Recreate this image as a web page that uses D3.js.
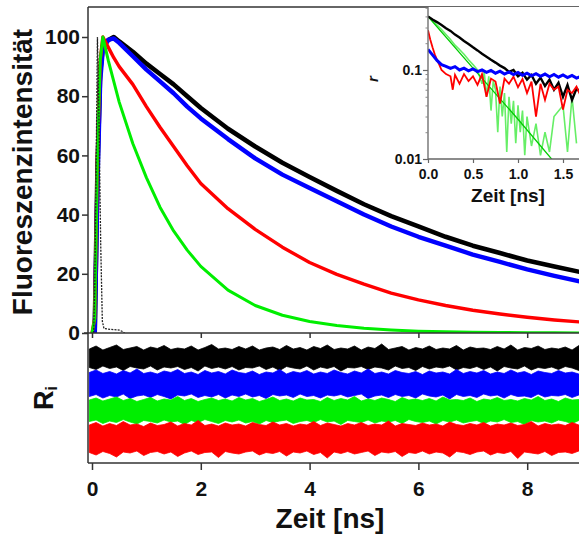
<!DOCTYPE html>
<html><head><meta charset="utf-8">
<script src="https://cdn.jsdelivr.net/npm/d3@7"></script>
<style>
body{margin:0;background:#fff}
svg{display:block}
text{font-family:"Liberation Sans",Arial,Helvetica,sans-serif;font-weight:bold;fill:#111}
</style>
</head><body>
<svg id="c" width="579" height="535"></svg>
<script>
// ---------- DATA ----------
// Main decay curves (Fluoreszenzintensität vs Zeit [ns])
const decayTimes = [0,0.05,0.1,0.15,0.2,0.3,0.4,0.5,0.75,1,1.25,1.5,1.75,2,2.5,3,3.5,4,4.5,5,5.5,6,6.5,7,7.5,8,8.5,9,9.5,10];
const decayBlack = [0,0,55,88,97,99,100,98.5,95,91,87.5,84,80,76,69,63,57.5,52.7,48,43.5,39.5,36,32.5,29.5,27,24.5,22.5,20.5,18.5,17];
const decayBlue  = [0,0,50,85,96,99,99.5,98,93.5,89,85,81,76.5,72.5,65.5,59,53.5,49,44.5,40,36,32.5,29.5,26.5,24,21.5,19.3,17.3,15.5,14];
const decayRed   = [0,5,60,92,100,96.5,93,90,84,76.5,69.5,63,56.5,50.5,42,35,29,23.8,19.8,16.5,13.5,11.2,9.3,7.7,6.4,5.3,4.4,3.7,3.1,2.6];
const decayGreen = [0,5,60,92,100,92,85,78,64,52.5,42.5,34.5,28,22.5,14.5,9.3,6,3.9,2.5,1.6,1,0.6,0.4,0.25,0.15,0.1,0.05,0,0,0];
// Instrument response (dashed)
const irfTimes  = [0.03,0.05,0.07,0.1,0.13,0.16,0.19,0.22,0.35,0.5,0.56,0.6];
const irfValues = [0,15,45,100,70,30,4,1.5,1.2,1,0.5,0];

// Residuals (upper / lower envelope of each noise band), grid step 0.125 ns
const resTimes = d3.range(-0.05, 9.96, 0.125);
const residualOffsets = [4.0, 1.4, -1.25, -4.0]; // black, blue, green, red
const resBlackUp = [0.9,1.2,0.8,1.05,1.3,0.85,1.0,1.15,0.8,1.1, 0.95,1.25,0.85,1.0,0.9,1.2,0.8,1.05,1.35,0.9, 1.0,0.85,1.15,0.9,1.2,0.8,1.0,1.1,0.85,1.25, 0.9,1.05,0.8,1.15,0.95,1.3,0.85,1.0,0.9,1.2, 0.8,1.1,0.95,1.4,0.85,1.0,1.15,0.8,1.05,0.9, 1.2,0.85,1.0,0.9,1.25,0.8,1.1,0.95,1.0,0.85, 1.15,0.9,1.3,0.8,1.05,0.95,1.2,0.85,1.0,0.9, 1.1,0.8,1.25,0.95,1.0,0.85,1.15,0.9,1.05,0.8, 1.0];
const resBlackLo = [-0.95,-1.15,-0.8,-1.05,-0.9,-1.25,-0.85,-1.0,-1.1,-0.8, -1.2,-0.9,-1.0,-0.85,-1.15,-0.95,-1.3,-0.8,-1.05,-0.9, -1.1,-0.85,-1.2,-0.95,-1.0,-0.8,-1.15,-0.9,-1.25,-0.85, -1.0,-1.1,-0.8,-1.2,-0.9,-1.05,-0.85,-1.3,-0.95,-1.0, -0.85,-1.15,-0.9,-1.0,-1.2,-0.8,-1.05,-0.95,-1.25,-0.85, -1.1,-0.9,-1.0,-0.8,-1.2,-0.95,-1.05,-0.85,-1.15,-0.9, -1.3,-0.85,-1.0,-1.1,-0.8,-1.2,-0.95,-1.05,-0.9,-1.15, -0.85,-1.0,-1.25,-0.9,-1.1,-0.8,-1.05,-0.95,-1.2,-0.9, -1.0];
const resBlueUp = [1.15,1.4,1.05,1.25,1.0,1.35,1.1,1.5,1.05,1.2, 1.0,1.3,1.15,1.45,1.05,1.2,0.95,1.35,1.1,1.25, 1.0,1.4,1.15,1.05,1.3,0.95,1.2,1.1,1.45,1.0, 1.25,1.1,1.35,1.0,1.2,1.05,1.4,1.15,1.0,1.3, 1.1,1.5,1.05,1.2,1.0,1.35,1.15,1.05,1.25,0.95, 1.3,1.1,1.2,1.0,1.45,1.05,1.25,1.1,1.35,1.0, 1.2,1.05,1.4,1.1,1.25,0.95,1.3,1.15,1.05,1.35, 1.1,1.2,1.0,1.4,1.15,1.05,1.3,1.1,1.2,1.05, 1.25];
const resBlueLo = [-1.25,-1.05,-1.4,-1.15,-1.3,-1.0,-1.45,-1.2,-1.1,-1.35, -1.05,-1.25,-1.5,-1.1,-1.2,-1.0,-1.35,-1.15,-1.3,-1.05, -1.4,-1.1,-1.25,-1.0,-1.3,-1.15,-1.45,-1.05,-1.2,-1.1, -1.35,-1.0,-1.25,-1.15,-1.4,-1.1,-1.2,-1.05,-1.3,-1.15, -1.0,-1.45,-1.2,-1.1,-1.35,-1.05,-1.25,-1.15,-1.4,-1.0, -1.2,-1.3,-1.1,-1.5,-1.05,-1.25,-1.15,-1.35,-1.0,-1.2, -1.1,-1.4,-1.05,-1.25,-1.2,-1.35,-1.0,-1.3,-1.15,-1.2, -1.05,-1.35,-1.1,-1.25,-1.0,-1.4,-1.15,-1.2,-1.3,-1.1, -1.2];
const resGreenUp = [1.05,1.25,0.95,1.15,1.35,1.0,1.2,0.9,1.1,1.3, 0.95,1.15,1.05,1.4,1.0,1.2,0.9,1.1,1.25,1.0, 1.15,0.95,1.3,1.05,1.2,0.9,1.1,1.35,1.0,1.15, 0.95,1.25,1.05,1.1,0.9,1.3,1.0,1.2,1.05,1.4, 0.95,1.15,1.0,1.25,1.1,0.9,1.3,1.05,1.15,1.0, 1.2,0.95,1.35,1.05,1.1,1.0,1.25,0.9,1.15,1.05, 1.3,1.0,1.1,0.95,1.2,1.05,1.4,1.0,1.15,0.9, 1.25,1.05,1.1,1.0,1.3,0.95,1.15,1.05,1.2,1.0, 1.1];
const resGreenLo = [-1.1,-0.95,-1.3,-1.05,-1.2,-0.9,-1.15,-1.35,-1.0,-1.1, -1.25,-0.95,-1.15,-1.05,-1.4,-1.0,-1.2,-0.9,-1.1,-1.3, -1.0,-1.15,-0.95,-1.25,-1.1,-1.35,-1.0,-1.2,-1.05,-0.95, -1.3,-1.1,-1.0,-1.2,-0.9,-1.15,-1.05,-1.4,-1.0,-1.1, -1.2,-0.95,-1.25,-1.05,-1.15,-1.0,-1.3,-0.9,-1.1,-1.2, -1.05,-1.35,-1.0,-1.15,-0.95,-1.25,-1.1,-1.0,-1.3,-1.05, -1.15,-0.9,-1.2,-1.1,-1.4,-1.0,-1.15,-1.05,-1.25,-0.95, -1.1,-1.3,-1.0,-1.2,-1.05,-1.15,-0.95,-1.25,-1.1,-1.0, -1.15];
const resRedUp = [1.3,1.55,1.2,1.45,1.25,1.65,1.3,1.4,1.15,1.5, 1.25,1.35,1.6,1.2,1.45,1.3,1.75,1.25,1.4,1.2, 1.5,1.3,1.4,1.2,1.55,1.35,1.25,1.6,1.3,1.45, 1.2,1.4,1.3,1.65,1.25,1.5,1.35,1.2,1.45,1.3, 1.55,1.25,1.4,1.3,1.7,1.2,1.45,1.35,1.25,1.5, 1.3,1.4,1.2,1.6,1.35,1.25,1.45,1.3,1.55,1.2, 1.4,1.3,1.5,1.25,1.35,1.65,1.2,1.45,1.3,1.4, 1.25,1.55,1.3,1.4,1.2,1.5,1.35,1.25,1.45,1.3, 1.4];
const resRedLo = [-1.45,-1.7,-1.35,-1.55,-1.9,-1.4,-1.5,-1.3,-1.75,-1.45, -1.35,-1.6,-1.4,-1.85,-1.5,-1.3,-1.65,-1.45,-1.4,-1.95, -1.35,-1.5,-1.6,-1.4,-1.3,-1.7,-1.45,-1.55,-1.35,-1.8, -1.4,-1.5,-1.3,-1.65,-1.45,-2.0,-1.4,-1.55,-1.35,-1.6, -1.45,-1.3,-1.75,-1.4,-1.5,-1.35,-1.85,-1.45,-1.55,-1.3, -1.6,-1.4,-1.5,-1.9,-1.35,-1.45,-1.65,-1.4,-1.3,-1.7, -1.45,-1.55,-1.35,-2.05,-1.4,-1.5,-1.6,-1.35,-1.75,-1.45, -1.4,-1.55,-1.3,-1.8,-1.45,-1.5,-1.35,-1.65,-1.4,-1.5, -1.45];

// Inset: anisotropy r (log) vs Zeit [ns]
const insetGridTimes = d3.range(0, 1.7001, 0.05);
const insetBlack = [0.40,0.37,0.345,0.32,0.295,0.275,0.25,0.232,0.212,0.196,0.18,0.166,0.152,0.141,0.13,0.121,0.112,0.105,0.095,0.1,0.085,0.093,0.078,0.088,0.07,0.082,0.066,0.078,0.06,0.072,0.05,0.068,0.046,0.062,0.055];
const insetBlue  = [0.17,0.148,0.128,0.115,0.11,0.104,0.109,0.1,0.105,0.098,0.103,0.096,0.1,0.094,0.099,0.092,0.097,0.09,0.095,0.089,0.094,0.087,0.092,0.086,0.091,0.085,0.09,0.084,0.089,0.083,0.088,0.082,0.087,0.081,0.085];
const insetRedTimes = [0,0.025,0.05,0.075,0.1,0.125,0.15,0.2,0.25,0.275,0.3,0.35,0.4,0.45,0.5,0.55,0.6,0.65,0.7,0.75,0.8,0.85,0.9,0.95,1.0,1.05,1.1,1.15,1.2,1.25,1.3,1.35,1.4,1.45,1.5,1.55,1.6,1.65,1.7];
const insetRed = [0.28,0.22,0.18,0.15,0.13,0.115,0.1,0.09,0.085,0.06,0.088,0.07,0.09,0.075,0.085,0.068,0.09,0.05,0.08,0.074,0.042,0.08,0.07,0.084,0.064,0.079,0.055,0.074,0.03,0.07,0.046,0.07,0.06,0.065,0.036,0.06,0.055,0.065,0.05];
const insetGreenTimes = [0,0.05,0.1,0.15,0.2,0.25,0.3,0.35,0.4,0.45,0.5,0.55,0.6,0.625,0.65,0.675,0.7,0.725,0.75,0.775,0.8,0.825,0.85,0.875,0.9,0.925,0.95,0.975,1.0,1.025,1.05,1.075,1.1,1.15,1.2,1.25,1.3,1.35,1.4,1.5,1.55,1.6,1.65];
const insetGreen = [0.40,0.36,0.32,0.285,0.25,0.22,0.19,0.17,0.15,0.13,0.115,0.1,0.07,0.095,0.05,0.085,0.035,0.075,0.06,0.02,0.065,0.03,0.055,0.012,0.05,0.025,0.045,0.015,0.04,0.02,0.035,0.011,0.03,0.014,0.025,0.011,0.02,0.012,0.03,0.04,0.012,0.05,0.015];
const insetGreenFitTimes = [0, 0.5, 1.0, 1.45];
const insetGreenFit = [0.40, 0.105, 0.028, 0.0081];

// Tick labels
const mainYTicks = [0,20,40,60,80,100];
const mainXTicks = [0,2,4,6,8];
const insetXTicks = [0,0.5,1.0,1.5];
const insetYTicks = [0.01,0.1];
const insetYMinor = [0.02,0.03,0.04,0.05,0.06,0.07,0.08,0.09,0.2,0.3,0.4,0.5];

// ---------- DRAW ----------
const svg = d3.select("#c");
const FONT = "'Liberation Sans', Arial, sans-serif";
const COL = {black:"#000000", blue:"#0000ff", red:"#ff0000", green:"#00ee00"};
const x = d3.scaleLinear().domain([0, 10]).range([92, 636]);
const yMain = d3.scaleLinear().domain([0, 100]).range([333, 37]);
const yRes = d3.scaleLinear().domain([-6.5, 6.5]).range([463, 333]);

const defs = svg.append("defs");
defs.append("clipPath").attr("id","cMain").append("rect").attr("x",88).attr("y",7).attr("width",600).attr("height",326);
defs.append("clipPath").attr("id","cRes").append("rect").attr("x",88).attr("y",334).attr("width",600).attr("height",128);
defs.append("clipPath").attr("id","cIn").append("rect").attr("x",428).attr("y",7).attr("width",200).attr("height",152);

// main curves
const gMain = svg.append("g").attr("clip-path","url(#cMain)");
const mainLine = d3.line().x((d,i)=>x(decayTimes[i])).y(d=>yMain(d));
[[decayBlack,COL.black,4.6],[decayBlue,COL.blue,4.4],[decayRed,COL.red,3.4],[decayGreen,COL.green,3]].forEach(([arr,c,w])=>{
  gMain.append("path").datum(arr).attr("d",mainLine).attr("fill","none")
    .attr("stroke",c).attr("stroke-width",w).attr("stroke-linejoin","round");
});
const irfLine = d3.line().x((d,i)=>x(irfTimes[i])).y(d=>yMain(d));
gMain.append("path").datum(irfValues).attr("d",irfLine).attr("fill","none")
  .attr("stroke","#222").attr("stroke-width",1.3).attr("stroke-dasharray","2,1.2");

// residuals
const gRes = svg.append("g").attr("clip-path","url(#cRes)");
const resSets = [[resBlackUp,resBlackLo,COL.black],[resBlueUp,resBlueLo,COL.blue],[resGreenUp,resGreenLo,COL.green],[resRedUp,resRedLo,COL.red]];
resSets.forEach(([up,lo,c],k)=>{
  const off = residualOffsets[k];
  const area = d3.area().x((d,i)=>x(resTimes[i])).y0((d,i)=>yRes(off+lo[i])).y1((d,i)=>yRes(off+up[i]));
  gRes.append("path").datum(up).attr("d",area).attr("fill",c).attr("stroke",c).attr("stroke-width",0.8);
});

// frame lines
const ax = svg.append("g").attr("stroke","#333").attr("stroke-width",1.5);
ax.append("line").attr("x1",88).attr("x2",88).attr("y1",7).attr("y2",463);
ax.append("line").attr("x1",88).attr("x2",579).attr("y1",7).attr("y2",7);
ax.append("line").attr("x1",84).attr("x2",579).attr("y1",333).attr("y2",333);
ax.append("line").attr("x1",88).attr("x2",579).attr("y1",463).attr("y2",463);

function styleAxis(g, size){
  g.select(".domain").remove();
  g.selectAll(".tick line").attr("stroke","#333").attr("stroke-width",1.5);
  g.selectAll(".tick text").attr("font-size",size).attr("fill","#111")
    .attr("font-family",FONT).attr("font-weight","bold");
}
const gy = svg.append("g").attr("transform","translate(88,0)")
  .call(d3.axisLeft(yMain).tickValues(mainYTicks).tickSize(6).tickPadding(2));
styleAxis(gy, 21);
const gxb = svg.append("g").attr("transform","translate(0,463)")
  .call(d3.axisBottom(x).tickValues(mainXTicks).tickSize(7).tickPadding(11).tickFormat(d3.format("d")));
styleAxis(gxb, 21);
const gxm = svg.append("g").attr("transform","translate(0,333)")
  .call(d3.axisBottom(x).tickValues(mainXTicks).tickSize(5).tickFormat(""));
styleAxis(gxm, 21);

// axis titles
svg.append("text").attr("transform","translate(32,172) rotate(-90)").attr("text-anchor","middle")
  .attr("font-size",28).text("Fluoreszenzintensität");
const ri = svg.append("text").attr("transform","translate(53,398) rotate(-90)").attr("text-anchor","middle")
  .attr("font-size",27);
ri.append("tspan").text("R");
ri.append("tspan").attr("font-size",17).attr("dy",4).text("i");
svg.append("text").attr("x",330).attr("y",528).attr("text-anchor","middle").attr("font-size",28).text("Zeit [ns]");

// ---------- INSET ----------
const xi = d3.scaleLinear().domain([0, 2]).range([428, 608]);
const yi = d3.scaleLog().domain([0.01, 0.51]).range([159, 7]);
svg.append("rect").attr("x",428).attr("y",7).attr("width",160).attr("height",152).attr("fill","#fff");
const gIn = svg.append("g").attr("clip-path","url(#cIn)");
const lineGreen = d3.line().x((d,i)=>xi(insetGreenTimes[i])).y(d=>yi(d));
gIn.append("path").datum(insetGreen).attr("d",lineGreen).attr("fill","none").attr("stroke","#66ee66").attr("stroke-width",1.6);
const lineGreenFit = d3.line().x((d,i)=>xi(insetGreenFitTimes[i])).y(d=>yi(d));
gIn.append("path").datum(insetGreenFit).attr("d",lineGreenFit).attr("fill","none").attr("stroke","#00cc00").attr("stroke-width",1.3);
const lineGrid = d3.line().x((d,i)=>xi(insetGridTimes[i])).y(d=>yi(d));
gIn.append("path").datum(insetBlack).attr("d",lineGrid).attr("fill","none").attr("stroke",COL.black).attr("stroke-width",2.4);
const lineRed = d3.line().x((d,i)=>xi(insetRedTimes[i])).y(d=>yi(d));
gIn.append("path").datum(insetRed).attr("d",lineRed).attr("fill","none").attr("stroke",COL.red).attr("stroke-width",1.8);
gIn.append("path").datum(insetBlue).attr("d",lineGrid).attr("fill","none").attr("stroke",COL.blue).attr("stroke-width",3);

const ia = svg.append("g").attr("stroke","#666").attr("stroke-width",1.3);
ia.append("line").attr("x1",428).attr("x2",428).attr("y1",7).attr("y2",159);
ia.append("line").attr("x1",428).attr("x2",579).attr("y1",159).attr("y2",159);
const gix = svg.append("g").attr("transform","translate(0,159)")
  .call(d3.axisBottom(xi).tickValues(insetXTicks).tickSize(4).tickPadding(6).tickFormat(d3.format(".1f")));
styleAxis(gix, 14);
gix.selectAll(".tick line").attr("stroke","#666").attr("stroke-width",1.2);
const giy = svg.append("g").attr("transform","translate(428,0)")
  .call(d3.axisLeft(yi).tickValues(insetYTicks).tickSize(5).tickPadding(1).tickFormat(d=>d===0.1?"0.1":"0.01"));
styleAxis(giy, 14);
giy.selectAll(".tick line").attr("stroke","#666").attr("stroke-width",1.2);
const giym = svg.append("g").attr("transform","translate(428,0)")
  .call(d3.axisLeft(yi).tickValues(insetYMinor).tickSize(2.5).tickFormat(""));
styleAxis(giym, 14);
giym.selectAll(".tick line").attr("stroke","#888").attr("stroke-width",1);

svg.append("text").attr("transform","translate(378,79) rotate(-90)").attr("text-anchor","middle")
  .attr("font-size",15).attr("font-style","italic").text("r");
svg.append("text").attr("x",508).attr("y",202).attr("text-anchor","middle").attr("font-size",19).text("Zeit [ns]");
</script>
</body></html>
